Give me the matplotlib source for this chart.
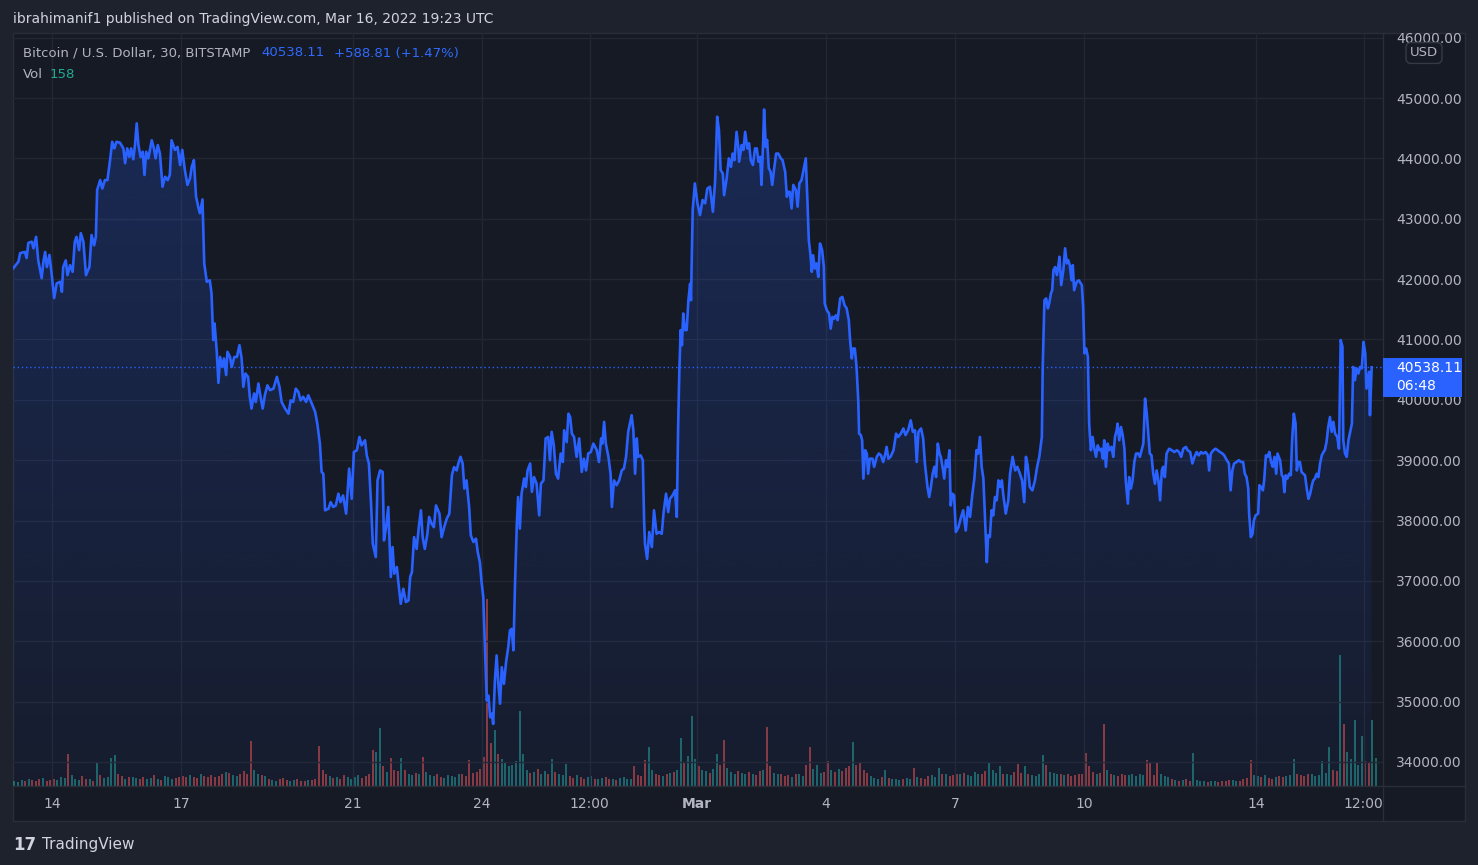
import numpy as np
import matplotlib
matplotlib.use("Agg")
import matplotlib.pyplot as plt
from matplotlib.patches import Polygon, Rectangle
from matplotlib.lines import Line2D

# ---- data: BTC/USD (Bitstamp, 30m) ----
# time in days from 2022-02-14 00:00 UTC
price_days = [
    -0.90, -0.78, -0.74, -0.63, -0.59, -0.55, -0.47, -0.43, -0.37, -0.32,
    -0.24, -0.20, -0.16, -0.12, -0.06, -0.01, 0.05, 0.11, 0.19, 0.23,
    0.26, 0.32, 0.36, 0.42, 0.48, 0.53, 0.57, 0.63, 0.67, 0.73,
    0.79, 0.87, 0.92, 0.98, 1.02, 1.05, 1.12, 1.17, 1.23, 1.29,
    1.35, 1.40, 1.45, 1.50, 1.58, 1.66, 1.70, 1.75, 1.80, 1.84,
    1.89, 1.93, 1.97, 2.01, 2.06, 2.11, 2.15, 2.19, 2.24, 2.32,
    2.37, 2.41, 2.46, 2.51, 2.57, 2.63, 2.69, 2.74, 2.78, 2.86,
    2.92, 2.98, 3.03, 3.09, 3.15, 3.21, 3.25, 3.30, 3.35, 3.40,
    3.44, 3.50, 3.54, 3.60, 3.67, 3.71, 3.75, 3.78, 3.83, 3.87,
    3.91, 3.96, 4.00, 4.05, 4.08, 4.14, 4.18, 4.24, 4.30, 4.36,
    4.41, 4.45, 4.50, 4.56, 4.60, 4.64, 4.70, 4.74, 4.80, 4.85,
    4.90, 4.95, 5.01, 5.07, 5.15, 5.23, 5.29, 5.34, 5.42, 5.50,
    5.55, 5.61, 5.67, 5.73, 5.78, 5.84, 5.91, 5.96, 6.04, 6.12,
    6.17, 6.23, 6.27, 6.31, 6.35, 6.43, 6.48, 6.54, 6.60, 6.66,
    6.71, 6.77, 6.84, 6.91, 6.97, 7.02, 7.09, 7.15, 7.20, 7.28,
    7.32, 7.37, 7.42, 7.46, 7.53, 7.57, 7.63, 7.69, 7.72, 7.77,
    7.82, 7.88, 7.92, 7.96, 8.02, 8.05, 8.11, 8.17, 8.23, 8.29,
    8.33, 8.37, 8.42, 8.48, 8.53, 8.58, 8.62, 8.67, 8.73, 8.77,
    8.83, 8.88, 8.93, 9.01, 9.06, 9.12, 9.18, 9.24, 9.30, 9.35,
    9.41, 9.45, 9.50, 9.55, 9.59, 9.64, 9.70, 9.74, 9.80, 9.86,
    9.90, 9.95, 9.99, 10.03, 10.07, 10.11, 10.15, 10.19, 10.23, 10.26,
    10.30, 10.34, 10.38, 10.42, 10.46, 10.51, 10.56, 10.61, 10.65, 10.69,
    10.73, 10.77, 10.81, 10.84, 10.88, 10.92, 10.98, 11.02, 11.06, 11.12,
    11.16, 11.21, 11.27, 11.33, 11.37, 11.43, 11.48, 11.54, 11.58, 11.62,
    11.67, 11.72, 11.77, 11.83, 11.88, 11.91, 11.97, 12.01, 12.05, 12.09,
    12.14, 12.20, 12.26, 12.32, 12.37, 12.42, 12.47, 12.53, 12.59, 12.67,
    12.72, 12.77, 12.80, 12.84, 12.88, 12.94, 12.99, 13.02, 13.07, 13.13,
    13.19, 13.25, 13.30, 13.35, 13.40, 13.48, 13.52, 13.56, 13.60, 13.63,
    13.69, 13.74, 13.77, 13.79, 13.84, 13.89, 13.95, 14.00, 14.06, 14.12,
    14.18, 14.22, 14.28, 14.33, 14.37, 14.43, 14.49, 14.53, 14.56, 14.59,
    14.62, 14.65, 14.68, 14.72, 14.76, 14.80, 14.84, 14.86, 14.90, 14.95,
    15.01, 15.07, 15.13, 15.19, 15.24, 15.30, 15.37, 15.42, 15.47, 15.51,
    15.55, 15.60, 15.63, 15.69, 15.74, 15.79, 15.83, 15.87, 15.92, 15.96,
    15.98, 16.04, 16.08, 16.12, 16.17, 16.21, 16.25, 16.30, 16.35, 16.39,
    16.43, 16.47, 16.50, 16.54, 16.56, 16.60, 16.63, 16.67, 16.71, 16.75,
    16.79, 16.84, 16.89, 16.95, 16.99, 17.05, 17.09, 17.12, 17.16, 17.20,
    17.24, 17.30, 17.34, 17.38, 17.43, 17.47, 17.53, 17.57, 17.60, 17.64,
    17.67, 17.70, 17.74, 17.78, 17.82, 17.86, 17.91, 17.95, 17.97, 18.02,
    18.07, 18.11, 18.15, 18.19, 18.23, 18.27, 18.33, 18.38, 18.43, 18.48,
    18.53, 18.56, 18.60, 18.63, 18.67, 18.71, 18.75, 18.77, 18.81, 18.84,
    18.87, 18.91, 18.95, 18.98, 19.02, 19.08, 19.12, 19.18, 19.23, 19.28,
    19.33, 19.37, 19.41, 19.45, 19.50, 19.57, 19.63, 19.68, 19.74, 19.80,
    19.85, 19.91, 19.97, 20.02, 20.07, 20.11, 20.15, 20.21, 20.26, 20.30,
    20.36, 20.40, 20.44, 20.48, 20.52, 20.56, 20.60, 20.64, 20.67, 20.71,
    20.75, 20.79, 20.83, 20.87, 20.90, 20.94, 20.98, 21.02, 21.08, 21.13,
    21.19, 21.25, 21.30, 21.35, 21.40, 21.45, 21.50, 21.54, 21.58, 21.62,
    21.66, 21.70, 21.74, 21.77, 21.81, 21.85, 21.89, 21.93, 21.97, 22.01,
    22.05, 22.09, 22.12, 22.18, 22.24, 22.28, 22.34, 22.40, 22.45, 22.51,
    22.56, 22.61, 22.65, 22.69, 22.74, 22.80, 22.86, 22.91, 22.96, 23.02,
    23.04, 23.08, 23.12, 23.16, 23.19, 23.23, 23.26, 23.29, 23.33, 23.37,
    23.40, 23.43, 23.47, 23.52, 23.56, 23.60, 23.63, 23.67, 23.71, 23.74,
    23.77, 23.83, 23.88, 23.95, 23.98, 24.01, 24.05, 24.09, 24.12, 24.16,
    24.20, 24.24, 24.28, 24.32, 24.36, 24.40, 24.44, 24.47, 24.51, 24.55,
    24.59, 24.64, 24.68, 24.72, 24.76, 24.78, 24.82, 24.86, 24.90, 24.94,
    24.97, 25.02, 25.05, 25.09, 25.13, 25.17, 25.21, 25.26, 25.30, 25.34,
    25.38, 25.42, 25.46, 25.50, 25.53, 25.57, 25.61, 25.65, 25.69, 25.73,
    25.77, 25.81, 25.84, 25.88, 25.92, 25.98, 26.04, 26.10, 26.16, 26.21,
    26.26, 26.31, 26.37, 26.41, 26.47, 26.52, 26.57, 26.62, 26.67, 26.72,
    26.77, 26.83, 26.88, 26.91, 26.95, 27.01, 27.06, 27.11, 27.16, 27.22,
    27.26, 27.32, 27.37, 27.41, 27.45, 27.49, 27.55, 27.60, 27.65, 27.70,
    27.74, 27.78, 27.82, 27.84, 27.88, 27.92, 27.95, 27.99, 28.05, 28.08,
    28.12, 28.16, 28.19, 28.23, 28.27, 28.31, 28.35, 28.39, 28.43, 28.47,
    28.50, 28.56, 28.60, 28.63, 28.66, 28.69, 28.73, 28.77, 28.81, 28.84,
    28.88, 28.92, 28.95, 28.98, 29.02, 29.06, 29.10, 29.14, 29.18, 29.22,
    29.26, 29.30, 29.33, 29.37, 29.41, 29.45, 29.49, 29.53, 29.57, 29.60,
    29.64, 29.68, 29.72, 29.76, 29.80, 29.84, 29.89, 29.93, 29.97, 30.01,
    30.03, 30.07, 30.11, 30.15, 30.19, 30.23, 30.26, 30.30, 30.34, 30.38,
    30.42, 30.46, 30.50, 30.54, 30.57, 30.61, 30.63, 30.65, 30.69,
]
price_close = [
    42180, 42290, 42430, 42450, 42350, 42600, 42620, 42510, 42700, 42310,
    42015, 42290, 42450, 42200, 42400, 42100, 41685, 41930, 41955, 41790,
    42200, 42310, 42065, 42230, 42120, 42620, 42700, 42480, 42760, 42620,
    42065, 42200, 42730, 42560, 42700, 43475, 43640, 43500, 43640, 43640,
    43970, 44275, 44165, 44275, 44260, 44165, 43920, 44165, 44025, 44165,
    43985, 44220, 44580, 44220, 44025, 44110, 43725, 44110, 44000, 44300,
    44165, 44000, 44220, 44080, 43530, 43695, 43640, 43725, 44300, 44140,
    44190, 43890, 44140, 43805, 43560, 43670, 43860, 43970, 43365, 43200,
    43090, 43320, 42260, 41955, 41980, 41760, 40990, 41265, 40820, 40280,
    40710, 40545, 40685, 40410, 40795, 40710, 40545, 40710, 40710, 40905,
    40685, 40215, 40435, 40380, 40050, 39855, 40105, 39965, 40270, 40050,
    39855, 40075, 40240, 40160, 40185, 40380, 40215, 39965, 39855, 39770,
    39990, 39965, 40185, 40130, 39990, 40050, 39965, 40075, 39940, 39800,
    39605, 39275, 38805, 38775, 38170, 38195, 38305, 38225, 38250, 38445,
    38305, 38415, 38115, 38860, 38360, 39135, 39165, 39385, 39245, 39330,
    39080, 38945, 38280, 37615, 37395, 38665, 38830, 38805, 37670, 37890,
    38225, 37065, 37560, 37120, 37230, 37010, 36620, 36870, 36650, 36675,
    37065, 37145, 37725, 37530, 37890, 38170, 37725, 37530, 37780, 38060,
    37945, 37890, 38250, 38115, 37725, 37890, 38030, 38115, 38750, 38885,
    38830, 38945, 39055, 38945, 38530, 38665, 38225, 37755, 37645, 37700,
    37480, 37310, 36980, 36730, 35900, 35020, 35100, 34740, 34800, 34630,
    35350, 35765, 35295, 34965, 35570, 35295, 35655, 35900, 36180, 36205,
    35850, 37010, 37945, 38390, 37865, 38445, 38695, 38555, 38830, 38945,
    38475, 38720, 38610, 38085, 38610, 38665, 39360, 39385, 39000, 39470,
    39245, 38775, 38695, 39110, 38970, 39495, 39300, 39770, 39715, 39440,
    39385, 39055, 39360, 38805, 39025, 38830, 39110, 39135, 39275, 39165,
    38970, 39360, 39275, 39635, 39275, 39055, 38775, 38225, 38665, 38585,
    38665, 38830, 38860, 39055, 39470, 39745, 39495, 38775, 39360, 39055,
    39080, 39000, 38000, 37615, 37365, 37810, 37560, 38170, 37780, 37810,
    37780, 38115, 38445, 38140, 38360, 38415, 38500, 38060, 39500, 40500,
    41155, 40905, 41430, 41155, 41155, 41650, 41925, 41650, 43145, 43585,
    43255, 43060, 43310, 43255, 43500, 43530, 43115, 43615, 44690, 44470,
    43805, 43750, 43390, 43670, 44000, 43860, 44080, 43970, 44440, 44190,
    43945, 44220, 44140, 44440, 44165, 44250, 43970, 43890, 44165, 44165,
    43945, 44025, 43560, 44305, 44810, 44190, 44305, 43835, 43780, 43560,
    43805, 44080, 44080, 44000, 43970, 43780, 43365, 43445, 43445, 43170,
    43560, 43475, 43200, 43585, 43640, 43780, 44000, 43255, 42645, 42395,
    42120, 42395, 42175, 42260, 42035, 42590, 42480, 42205, 41595, 41485,
    41430, 41180, 41375, 41345, 41400, 41320, 41680, 41705, 41570, 41515,
    41320, 40990, 40685, 40850, 40850, 40545, 39990, 39440, 39415, 39330,
    38695, 39165, 39110, 38775, 39025, 39025, 38890, 39055, 39110, 39080,
    38970, 39080, 39220, 39025, 39055, 39165, 39440, 39385, 39440, 39525,
    39415, 39495, 39660, 39470, 39495, 38970, 39470, 39525, 39360, 38945,
    38555, 38390, 38555, 38775, 38890, 38720, 39275, 39110, 39055, 38890,
    38695, 39000, 38890, 39165, 38250, 38445, 38415, 37810, 37890, 38030,
    38170, 37835, 38225, 38060, 38415, 38695, 39165, 39110, 39385, 38890,
    38695, 38000, 37310, 37755, 37725, 38170, 38085, 38390, 38335, 38665,
    38555, 38665, 38445, 38115, 38335, 38775, 39055, 38830, 38890, 38775,
    38665, 38305, 39055, 38915, 38555, 38500, 38665, 38890, 39055, 39385,
    40545, 41650, 41680, 41515, 41595, 41760, 41815, 42150, 42200, 42065,
    42200, 42370, 41900, 42150, 42510, 42260, 42315, 42230, 41980, 42230,
    41815, 41955, 41980, 41900, 41540, 40770, 40850, 40710, 39605, 39165,
    39385, 39190, 39055, 39245, 39165, 39190, 39025, 39330, 38890, 39275,
    39165, 39220, 39055, 39385, 39495, 39605, 39330, 39550, 39415, 39190,
    38665, 38280, 38720, 38530, 38665, 38970, 39110, 39110, 39055, 39165,
    39275, 40020, 39770, 39385, 39110, 39080, 38775, 38610, 38830, 38665,
    38335, 38830, 38890, 38720, 39110, 39190, 39165, 39135, 39165, 39135,
    39055, 39190, 39220, 39165, 39135, 38945, 39055, 39135, 39080, 39135,
    39110, 39135, 39080, 38830, 39110, 39165, 39190, 39165, 39135, 39110,
    39080, 39000, 38945, 38500, 38830, 38945, 38970, 39000, 38970, 38970,
    38775, 38720, 38530, 38115, 37725, 37780, 38000, 38085, 38115, 38585,
    38555, 38500, 38665, 39080, 39055, 39135, 38970, 38890, 39055, 38775,
    39110, 39000, 38750, 38720, 38470, 38750, 38695, 38775, 38750, 39330,
    39770, 39605, 38830, 38970, 38970, 38805, 38775, 38750, 38530, 38360,
    38445, 38585, 38665, 38695, 38775, 38720, 38945, 39080, 39135, 39165,
    39300, 39550, 39715, 39470, 39635, 39440, 39385, 39190, 40990, 40880,
    39330, 39110, 39055, 39330, 39470, 39605, 40545, 40325, 40520, 40435,
    40545, 40520, 40960, 40770, 40185, 40380, 40465, 39745, 40538.11,
]

# volume (BTC) in 2-hour buckets, first bucket 2022-02-13 02:00 UTC
vol_start = -22 / 24
vol_step = 2 / 24
volume = [
    30, 25, 35, 28, 40, 32, 26, 38, 45, 30, 35,                 # Feb 13
    40, 35, 50, 45, 180, 60, 40, 35, 55, 42, 38, 30,            # Feb 14
    130, 60, 45, 50, 155, 175, 70, 55, 40, 48, 52, 45,          # Feb 15
    40, 50, 38, 45, 60, 42, 35, 55, 48, 40, 45, 50,             # Feb 16
    55, 48, 60, 52, 45, 70, 58, 50, 62, 48, 55, 65,             # Feb 17
    80, 75, 60, 55, 70, 85, 65, 250, 90, 70, 60, 55,            # Feb 18
    40, 35, 30, 38, 45, 32, 28, 35, 40, 30, 26, 32,             # Feb 19
    35, 40, 225, 90, 70, 55, 45, 50, 40, 60, 48, 42,            # Feb 20
    50, 60, 45, 55, 70, 200, 190, 325, 110, 80, 155, 90,        # Feb 21
    85, 155, 90, 70, 60, 75, 65, 160, 80, 60, 55, 70,           # Feb 22
    50, 45, 60, 55, 48, 70, 65, 58, 145, 75, 80, 95,            # Feb 23
    160, 1050, 240, 315, 180, 150, 130, 110, 120, 140, 420, 180,  # Feb 24
    90, 75, 80, 95, 70, 85, 65, 150, 80, 70, 60, 125,           # Feb 25
    55, 45, 60, 50, 40, 48, 55, 42, 38, 45, 50, 40,             # Feb 26
    40, 35, 45, 50, 42, 38, 110, 60, 55, 145, 220, 90,          # Feb 27
    70, 60, 55, 65, 75, 80, 90, 270, 130, 170, 390, 150,        # Feb 28
    110, 90, 85, 75, 95, 180, 120, 260, 100, 80, 70, 85,        # Mar 1
    75, 65, 80, 70, 60, 85, 90, 330, 110, 75, 65, 70,           # Mar 2
    55, 60, 50, 65, 70, 58, 120, 220, 95, 120, 75, 80,          # Mar 3
    140, 90, 80, 95, 85, 100, 110, 245, 120, 135, 90, 75,       # Mar 4
    55, 45, 40, 50, 90, 45, 38, 42, 35, 40, 45, 38,             # Mar 5
    100, 50, 45, 40, 55, 60, 48, 100, 65, 70, 55, 60,           # Mar 6
    70, 65, 75, 60, 55, 80, 70, 65, 85, 130, 90, 75,            # Mar 7
    110, 70, 65, 60, 80, 125, 75, 110, 65, 60, 55, 70,          # Mar 8
    175, 120, 80, 75, 70, 65, 60, 70, 55, 60, 65, 70,           # Mar 9
    185, 110, 80, 70, 75, 350, 90, 70, 60, 55, 65, 60,          # Mar 10
    60, 65, 55, 70, 60, 145, 135, 60, 135, 70, 55, 50,          # Mar 11
    40, 35, 30, 32, 38, 28, 185, 35, 30, 28, 25, 30,            # Mar 12
    28, 25, 30, 26, 32, 35, 30, 28, 40, 45, 145, 60,            # Mar 13
    55, 50, 60, 45, 40, 48, 55, 50, 58, 60, 150, 70,            # Mar 14
    60, 55, 65, 70, 58, 62, 140, 75, 220, 90, 85, 735,          # Mar 15
    350, 190, 150, 370, 120, 280, 140, 130, 370, 158,           # Mar 16
]

tick_days = [0, 3, 7, 10, 12.5, 15, 18, 21, 24, 28, 30.5]
tick_labels = ["14", "17", "21", "24", "12:00", "Mar", "4", "7", "10", "14", "12:00"]
price_ticks = list(range(34000, 46001, 1000))

last_price = price_close[-1]
change, change_pct = 588.81, 1.47
last_vol = volume[-1]

# ---- style ----
BG = "#1e222d"
PANEL = "#161a25"
GRID = "#232733"
BORDER = "#2a2e39"
TEXT = "#b2b5be"
BLUE = "#2962ff"
UP = "#26a69a"
DOWN = "#ef5350"

W, H = 1478, 865


def fx(px):
    return px / W


def fy(py):
    return 1 - py / H


fig = plt.figure(figsize=(W / 100, H / 100), dpi=100, facecolor=BG)

panel_box = [fx(13), fy(821), fx(1465) - fx(13), fy(33) - fy(821)]
fig.patches.append(Rectangle(panel_box[:2], panel_box[2], panel_box[3],
                             transform=fig.transFigure, facecolor=PANEL,
                             edgecolor=BORDER, lw=1, zorder=-5))

rect = [fx(13), fy(786), fx(1383) - fx(13), fy(33) - fy(786)]
ax_vol = fig.add_axes(rect)
ax = fig.add_axes(rect)
ax.patch.set_visible(False)
ax_vol.patch.set_visible(False)

xmin, xmax = -39 / 43, 1331 / 43
ymin, ymax = 33602, 46077

days = np.array(price_days)
close = np.array(price_close)

# volume bars (behind the price)
vol = np.array(volume, dtype=float)
vt0 = vol_start + np.arange(len(vol)) * vol_step
vt1 = vt0 + vol_step
up = np.interp(vt1, days, close) >= np.interp(vt0, days, close)
ax_vol.bar(vt0 + vol_step / 2, vol, width=vol_step * 0.55,
           color=np.where(up, UP, DOWN), alpha=0.55, linewidth=0)
ax_vol.set_xlim(xmin, xmax)
ax_vol.set_ylim(0, 4217)
ax_vol.axis("off")

# gradient area under the line
verts = np.column_stack([np.r_[days[0], days, days[-1]],
                         np.r_[ymin, close, ymin]])
area = Polygon(verts, closed=True, facecolor="none", edgecolor="none")
ax.add_patch(area)
grad = np.zeros((256, 1, 4))
grad[..., 0], grad[..., 1], grad[..., 2] = 41 / 255, 98 / 255, 1.0
grad[:, 0, 3] = np.linspace(0.24, 0.04, 256)
im = ax.imshow(grad, extent=[xmin, xmax, ymin, ymax], aspect="auto",
               origin="upper", zorder=1, interpolation="bilinear")
im.set_clip_path(area)

ax.plot(days, close, color=BLUE, lw=1.9, zorder=3, solid_joinstyle="round")
ax.axhline(last_price, color=BLUE, lw=1, ls=(0, (1, 2)), zorder=2)

ax.set_xlim(xmin, xmax)
ax.set_ylim(ymin, ymax)

ax.set_xticks(tick_days)
ax.set_xticklabels(tick_labels)
ax.set_yticks(price_ticks)
ax.set_yticklabels([f"{p:.2f}" for p in price_ticks])
ax.yaxis.tick_right()
ax.tick_params(axis="y", length=0, pad=9.5, labelsize=10, labelcolor=TEXT)
ax.tick_params(axis="x", length=0, pad=8, labelsize=10, labelcolor=TEXT)
for lab in ax.get_xticklabels():
    if lab.get_text() == "Mar":
        lab.set_fontweight("bold")

ax.grid(True, color=GRID, lw=1)
ax.set_axisbelow(True)
for s in ax.spines.values():
    s.set_visible(False)

# separators of price scale and time scale
fig.add_artist(Line2D([fx(1383), fx(1383)], [fy(33), fy(821)], color=BORDER, lw=1))
fig.add_artist(Line2D([fx(13), fx(1465)], [fy(786), fy(786)], color=BORDER, lw=1))

# last price label on the scale
fig.canvas.draw()
_, py = ax.transData.transform((0, last_price))
py_top = H - py
fig.patches.append(Rectangle((fx(1383), fy(py_top + 29.5)), fx(1462) - fx(1383), 39 / H,
                             transform=fig.transFigure, facecolor=BLUE,
                             edgecolor="none", zorder=5))
fig.text(fx(1396), fy(py_top + 0.5), f"{last_price:.2f}", color="white",
         fontsize=10, va="center", zorder=6)
fig.text(fx(1396), fy(py_top + 18.5), "06:48", color="white",
         fontsize=10, va="center", zorder=6)

fig.text(fx(1424), fy(53), "USD", color=TEXT, fontsize=9.5, ha="center",
         va="center", zorder=6,
         bbox=dict(boxstyle="round,pad=0.3,rounding_size=0.4", fc=PANEL, ec="#363a45", lw=1))

# header and legend
fig.text(fx(13), fy(19), "ibrahimanif1 published on TradingView.com, Mar 16, 2022 19:23 UTC",
         color="#d1d4dc", fontsize=10, va="center")
t1 = fig.text(fx(23), fy(53), "Bitcoin / U.S. Dollar, 30, BITSTAMP",
              color=TEXT, fontsize=9.5, va="center")
t2 = ax.annotate(f"{last_price:.2f}", xy=(1, 0.5), xycoords=t1, xytext=(8, 0),
                 textcoords="offset points", va="center", color="#2f6bff", fontsize=9.5)
ax.annotate(f"+{change:.2f} (+{change_pct:.2f}%)", xy=(1, 0.5), xycoords=t2,
            xytext=(7, 0), textcoords="offset points", va="center",
            color="#2f6bff", fontsize=9.5)
t3 = fig.text(fx(23), fy(74), "Vol", color=TEXT, fontsize=9.5, va="center")
ax.annotate(f"{last_vol}", xy=(1, 0.5), xycoords=t3, xytext=(5, 0),
            textcoords="offset points", va="center", color="#22ab94", fontsize=9.5)

# footer logo
fig.text(fx(13), fy(845), "17", color="#d1d4dc", fontsize=12, fontweight="heavy", va="center")
fig.text(fx(42), fy(845), "TradingView", color="#d1d4dc", fontsize=11, va="center")

fig.savefig("out.png", dpi=100, facecolor=BG)
